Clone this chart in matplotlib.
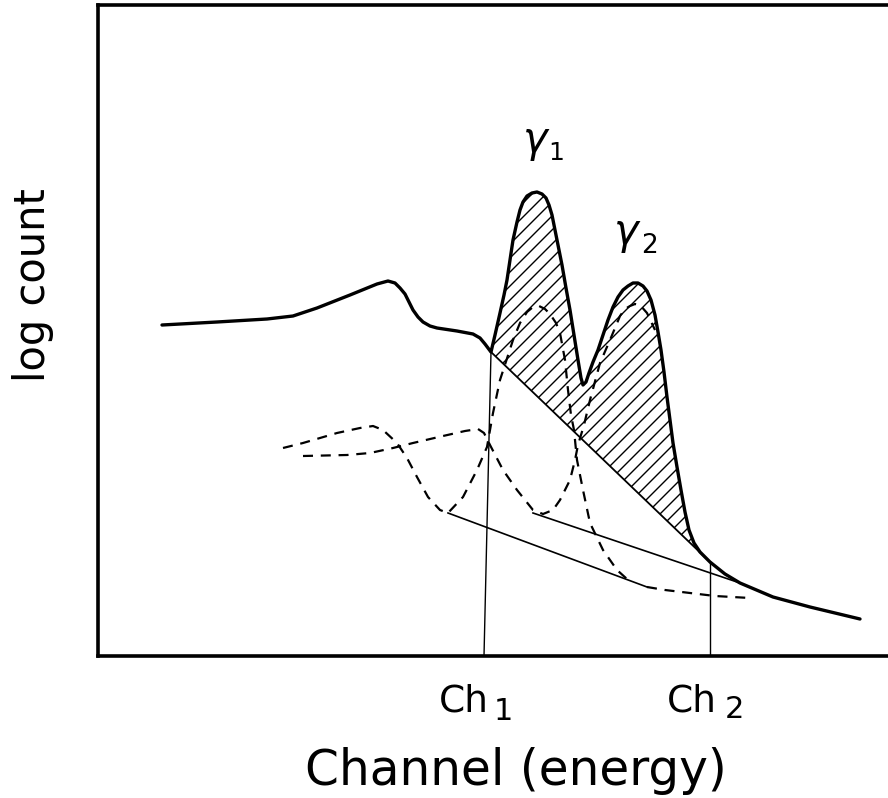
import matplotlib
matplotlib.use("Agg")
import matplotlib.pyplot as plt
import numpy as np
from matplotlib.patches import Polygon

# measured spectrum (channel vs log count, arbitrary units)
spectrum_ch = [64, 119, 169, 195, 219, 252, 279, 290, 297, 302, 307, 311, 315, 320, 325, 332, 339,
               359, 375, 382, 387, 393,
               397, 402, 406, 409, 412, 415, 419, 422, 425, 429, 434, 439, 444, 448, 451, 454,
               457, 460, 464, 468, 472, 476, 480, 483, 485,
               488, 491, 495, 500, 505, 510, 515, 520, 525, 530, 535, 540, 545, 549, 553, 557,
               560, 563, 566, 569, 572, 575, 579, 583, 587, 591, 596, 602, 612,
               627, 642, 675, 712, 762]
spectrum_log = [331, 334, 337, 340, 348, 361, 372, 375, 373, 368, 362, 354, 346, 339, 334, 330, 328,
                325, 322, 318, 312, 304,
                321, 343, 361, 376, 396, 416, 434, 446, 454, 460, 463, 464, 462, 458, 451, 441,
                426, 411, 391, 368, 346, 321, 296, 278, 271,
                274, 283, 294, 306, 321, 336, 349, 359, 366, 370, 373, 373, 370, 365, 356, 341,
                324, 306, 284, 259, 236, 213, 189, 166, 144, 126, 113, 104, 94,
                82, 73, 59, 49, 37]

# single-line response for gamma 1 (Compton continuum + photopeak)
g1_ch = [185, 205, 239, 262, 275, 285, 299, 309, 319, 330, 342, 350, 365, 379, 389, 395, 402, 415,
         422, 429, 435, 441, 447, 452, 458, 462, 467, 470, 473, 476, 479, 485, 492, 505, 519, 529]
g1_log = [208, 213, 223, 228, 230, 226, 213, 198, 179, 159, 146, 143, 159, 186, 209, 243, 276, 316,
          333, 344, 349, 350, 347, 342, 333, 323, 296, 266, 241, 226, 196, 166, 133, 106, 86, 77]
g1_tail_ch = [549, 567, 592, 617, 652]
g1_tail_log = [69, 66, 63, 60, 58]

# single-line response for gamma 2
g2_ch = [205, 249, 272, 295, 315, 345, 367, 380, 386, 392, 405, 419, 435, 445, 455, 462, 472, 477,
         480, 486, 492, 502, 512, 522, 527, 532, 537, 542, 549, 557]
g2_log = [200, 201, 203, 208, 213, 220, 225, 227, 223, 211, 186, 166, 146, 142, 146, 156, 176, 196,
          211, 231, 256, 293, 316, 340, 347, 350, 352, 351, 343, 326]

# straight backgrounds under each photopeak
bg1_ch, bg1_log = [350, 549], [143, 69]
bg2_ch, bg2_log = [435, 642], [143, 73]

# window limits
ch1_line = ([393, 386], [304, 0])
ch2_line = ([612, 612], [94, 0])
i_ch1, i_ch2 = spectrum_ch.index(393), spectrum_ch.index(612)

fig = plt.figure(figsize=(8.88, 7.98), dpi=100)
ax = fig.add_axes([98 / 888, 142 / 798, 802 / 888, 651 / 798])
ax.set_xlim(0, 802)
ax.set_ylim(0, 651)
ax.set_xticks([])
ax.set_yticks([])
for side in ["left", "bottom", "top"]:
    ax.spines[side].set_linewidth(2.6)
ax.spines["right"].set_visible(False)

# hatched net peak area between spectrum and linear background
x_win = np.array(spectrum_ch[i_ch1:i_ch2 + 1])
y_win = np.array(spectrum_log[i_ch1:i_ch2 + 1])
area = Polygon(np.column_stack([x_win, y_win]), closed=True, facecolor="none", edgecolor="none")
ax.add_patch(area)
for c in np.arange(-700, 200, 14):
    hl, = ax.plot([300, 700], [300 + c, 700 + c], color="black", lw=1.0)
    hl.set_clip_path(area)
ax.plot([x_win[0], x_win[-1]], [y_win[0], y_win[-1]], color="black", lw=1.3)

dash = dict(color="black", lw=1.6, dashes=(4.5, 3.5))
ax.plot(g1_ch, g1_log, **dash)
ax.plot(g1_tail_ch, g1_tail_log, **dash)
ax.plot(g2_ch, g2_log, **dash)

ax.plot(bg1_ch, bg1_log, color="black", lw=1.2)
ax.plot(bg2_ch, bg2_log, color="black", lw=1.2)
ax.plot(*ch1_line, color="black", lw=1.0)
ax.plot(*ch2_line, color="black", lw=1.0)

ax.plot(spectrum_ch, spectrum_log, color="black", lw=2.4, solid_joinstyle="round",
        solid_capstyle="round")

txt = dict(color="black", clip_on=False)
ax.text(437, 516, "γ", fontsize=30, style="italic", ha="center", va="center", **txt)
ax.text(458, 503, "1", fontsize=18, ha="center", va="center", **txt)
ax.text(528, 424, "γ", fontsize=30, style="italic", ha="center", va="center", **txt)
ax.text(551, 410, "2", fontsize=19, ha="center", va="center", **txt)

ax.text(366, -56, "Ch", fontsize=27, ha="center", va="baseline", **txt)
ax.text(405, -64, "1", fontsize=22, ha="center", va="baseline", **txt)
ax.text(594, -56, "Ch", fontsize=27, ha="center", va="baseline", **txt)
ax.text(636, -62, "2", fontsize=22, ha="center", va="baseline", **txt)

ax.text(418, -129, "Channel (energy)", fontsize=35, ha="center", va="baseline", **txt)
ax.text(-65, 371, "log count", fontsize=30, rotation=90, ha="center", va="center", **txt)

fig.savefig("out.png", dpi=100)
